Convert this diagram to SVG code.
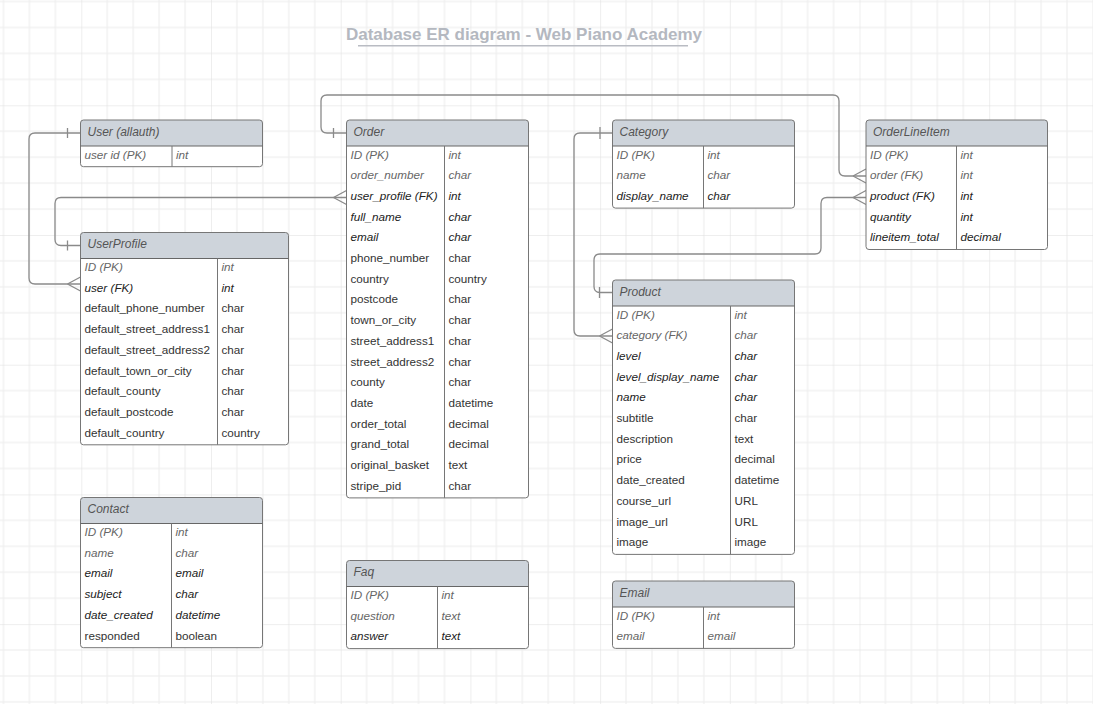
<svg xmlns="http://www.w3.org/2000/svg" width="1093" height="704" viewBox="0 0 1093 704">
  <defs>
    <!-- light drafting grid: minor cells every 25.94px, a darker line every fifth -->
    <pattern id="grid" x="81.3" y="105.3" width="129.7" height="129.7" patternUnits="userSpaceOnUse">
      <g stroke="#ececec" stroke-width="1">
        <path d="M25.94,0V129.7M51.88,0V129.7M77.82,0V129.7M103.76,0V129.7"/>
        <path d="M0,25.94H129.7M0,51.88H129.7M0,77.82H129.7M0,103.76H129.7"/>
      </g>
      <path d="M0,0V129.7M0,0H129.7" stroke="#dddddd" stroke-width="1"/>
    </pattern>
  </defs>
  <style>
    .frame { fill: none; stroke: #767676; stroke-width: 1; }
    .body { fill: #ffffff; }
    .head { fill: #ced4db; }
    .sep { stroke: #767676; stroke-width: 1; }
    .hsep { stroke: #666666; stroke-width: 1.2; }
    text { font-family: "Liberation Sans", Arial, sans-serif; font-size: 11.7px; }
    .h { font-size: 12px; font-style: italic; fill: #555555; }
    .g { font-style: italic; fill: #666666; }
    .k { font-style: italic; fill: #222222; }
    .n { fill: #333333; }
    .title { font-size: 17px; font-weight: bold; fill: #b4b8c0; }
    .c { fill: none; stroke: #8a8a8a; stroke-width: 1.3; }
  </style>

  <rect width="1093" height="704" fill="#ffffff"/>
  <rect width="1093" height="704" fill="url(#grid)"/>

  <g id="title">
    <text class="title" x="524" y="39.5" text-anchor="middle">Database ER diagram - Web Piano Academy</text>
    <line x1="358" y1="45.7" x2="688" y2="45.7" stroke="#b9bcc3" stroke-width="1.5"/>
  </g>

  <!-- relationships: bar = one, three prongs = many -->
  <g id="connectors">
    <!-- User.id -> UserProfile.user -->
    <path class="c" d="M80.5,133H35Q29,133 29,139V278Q29,284 35,284H80.5"/>
    <path class="c" d="M67.5,128V138M67.5,284L80.5,277M67.5,284L80.5,291"/>
    <!-- UserProfile.id -> Order.user_profile -->
    <path class="c" d="M80.5,245.5H61Q55,245.5 55,239.5V203.5Q55,197.5 61,197.5H346.5"/>
    <path class="c" d="M67.5,240.5V250.5M333.5,197.5L346.5,190.5M333.5,197.5L346.5,204.5"/>
    <!-- Order.id -> OrderLineItem.order -->
    <path class="c" d="M346.5,133H327Q321,133 321,127V101Q321,95 327,95H833Q839,95 839,101V170Q839,176 845,176H866"/>
    <path class="c" d="M333.5,128V138M853,176L866,169M853,176L866,183"/>
    <!-- Product.id -> OrderLineItem.product -->
    <path class="c" d="M612.5,292.5H600Q594,292.5 594,286.5V260Q594,254 600,254H815Q821,254 821,248V203.5Q821,197.5 827,197.5H866"/>
    <path class="c" d="M599.5,287V298M853,197.5L866,190.5M853,197.5L866,204.5"/>
    <!-- Category.id -> Product.category -->
    <path class="c" d="M612.5,133H580Q574,133 574,139V330Q574,336 580,336H612.5"/>
    <path class="c" d="M600,127V139M599.5,336L612.5,329M599.5,336L612.5,343"/>
  </g>

  <g id="user-allauth">
    <rect class="body" x="80.5" y="120" width="182" height="46.7" rx="3"/>
    <path class="head" d="M80.5,146V123Q80.5,120 83.5,120H259.5Q262.5,120 262.5,123V146Z"/>
    <rect class="frame" x="80.5" y="120" width="182" height="46.7" rx="3"/>
    <line class="hsep" x1="80.5" y1="146" x2="262.5" y2="146"/>
    <line class="sep" x1="172" y1="146" x2="172" y2="166.7"/>
    <text class="h" x="87.5" y="135.8">User (allauth)</text>
    <text class="g" x="84.5" y="158.5">user id (PK)</text>
    <text class="g" x="176" y="158.5">int</text>
  </g>

  <g id="order">
    <rect class="body" x="346.5" y="120" width="182" height="377.9" rx="3"/>
    <path class="head" d="M346.5,146V123Q346.5,120 349.5,120H525.5Q528.5,120 528.5,123V146Z"/>
    <rect class="frame" x="346.5" y="120" width="182" height="377.9" rx="3"/>
    <line class="hsep" x1="346.5" y1="146" x2="528.5" y2="146"/>
    <line class="sep" x1="444.5" y1="146" x2="444.5" y2="497.9"/>
    <text class="h" x="353.5" y="135.8">Order</text>
    <text class="g" x="350.5" y="158.5">ID (PK)</text><text class="g" x="448.5" y="158.5">int</text>
    <text class="g" x="350.5" y="179.2">order_number</text><text class="g" x="448.5" y="179.2">char</text>
    <text class="k" x="350.5" y="199.9">user_profile (FK)</text><text class="k" x="448.5" y="199.9">int</text>
    <text class="k" x="350.5" y="220.6">full_name</text><text class="k" x="448.5" y="220.6">char</text>
    <text class="k" x="350.5" y="241.3">email</text><text class="k" x="448.5" y="241.3">char</text>
    <text class="n" x="350.5" y="262">phone_number</text><text class="n" x="448.5" y="262">char</text>
    <text class="n" x="350.5" y="282.7">country</text><text class="n" x="448.5" y="282.7">country</text>
    <text class="n" x="350.5" y="303.4">postcode</text><text class="n" x="448.5" y="303.4">char</text>
    <text class="n" x="350.5" y="324.1">town_or_city</text><text class="n" x="448.5" y="324.1">char</text>
    <text class="n" x="350.5" y="344.8">street_address1</text><text class="n" x="448.5" y="344.8">char</text>
    <text class="n" x="350.5" y="365.5">street_address2</text><text class="n" x="448.5" y="365.5">char</text>
    <text class="n" x="350.5" y="386.2">county</text><text class="n" x="448.5" y="386.2">char</text>
    <text class="n" x="350.5" y="406.9">date</text><text class="n" x="448.5" y="406.9">datetime</text>
    <text class="n" x="350.5" y="427.6">order_total</text><text class="n" x="448.5" y="427.6">decimal</text>
    <text class="n" x="350.5" y="448.3">grand_total</text><text class="n" x="448.5" y="448.3">decimal</text>
    <text class="n" x="350.5" y="469">original_basket</text><text class="n" x="448.5" y="469">text</text>
    <text class="n" x="350.5" y="489.7">stripe_pid</text><text class="n" x="448.5" y="489.7">char</text>
  </g>

  <g id="category">
    <rect class="body" x="612.5" y="120" width="182" height="88.1" rx="3"/>
    <path class="head" d="M612.5,146V123Q612.5,120 615.5,120H791.5Q794.5,120 794.5,123V146Z"/>
    <rect class="frame" x="612.5" y="120" width="182" height="88.1" rx="3"/>
    <line class="hsep" x1="612.5" y1="146" x2="794.5" y2="146"/>
    <line class="sep" x1="703.5" y1="146" x2="703.5" y2="208.1"/>
    <text class="h" x="619.5" y="135.8">Category</text>
    <text class="g" x="616.5" y="158.5">ID (PK)</text><text class="g" x="707.5" y="158.5">int</text>
    <text class="g" x="616.5" y="179.2">name</text><text class="g" x="707.5" y="179.2">char</text>
    <text class="k" x="616.5" y="199.9">display_name</text><text class="k" x="707.5" y="199.9">char</text>
  </g>

  <g id="order-line-item">
    <rect class="body" x="866" y="120" width="181.5" height="129.5" rx="3"/>
    <path class="head" d="M866,146V123Q866,120 869,120H1044.5Q1047.5,120 1047.5,123V146Z"/>
    <rect class="frame" x="866" y="120" width="181.5" height="129.5" rx="3"/>
    <line class="hsep" x1="866" y1="146" x2="1047.5" y2="146"/>
    <line class="sep" x1="956.5" y1="146" x2="956.5" y2="249.5"/>
    <text class="h" x="873" y="135.8">OrderLineItem</text>
    <text class="g" x="870" y="158.5">ID (PK)</text><text class="g" x="960.5" y="158.5">int</text>
    <text class="g" x="870" y="179.2">order (FK)</text><text class="g" x="960.5" y="179.2">int</text>
    <text class="k" x="870" y="199.9">product (FK)</text><text class="k" x="960.5" y="199.9">int</text>
    <text class="k" x="870" y="220.6">quantity</text><text class="k" x="960.5" y="220.6">int</text>
    <text class="k" x="870" y="241.3">lineitem_total</text><text class="k" x="960.5" y="241.3">decimal</text>
  </g>

  <g id="user-profile">
    <rect class="body" x="80.5" y="232.5" width="208" height="212.3" rx="3"/>
    <path class="head" d="M80.5,258.5V235.5Q80.5,232.5 83.5,232.5H285.5Q288.5,232.5 288.5,235.5V258.5Z"/>
    <rect class="frame" x="80.5" y="232.5" width="208" height="212.3" rx="3"/>
    <line class="hsep" x1="80.5" y1="258.5" x2="288.5" y2="258.5"/>
    <line class="sep" x1="217.5" y1="258.5" x2="217.5" y2="444.8"/>
    <text class="h" x="87.5" y="248.3">UserProfile</text>
    <text class="g" x="84.5" y="271">ID (PK)</text><text class="g" x="221.5" y="271">int</text>
    <text class="k" x="84.5" y="291.7">user (FK)</text><text class="k" x="221.5" y="291.7">int</text>
    <text class="n" x="84.5" y="312.4">default_phone_number</text><text class="n" x="221.5" y="312.4">char</text>
    <text class="n" x="84.5" y="333.1">default_street_address1</text><text class="n" x="221.5" y="333.1">char</text>
    <text class="n" x="84.5" y="353.8">default_street_address2</text><text class="n" x="221.5" y="353.8">char</text>
    <text class="n" x="84.5" y="374.5">default_town_or_city</text><text class="n" x="221.5" y="374.5">char</text>
    <text class="n" x="84.5" y="395.2">default_county</text><text class="n" x="221.5" y="395.2">char</text>
    <text class="n" x="84.5" y="415.9">default_postcode</text><text class="n" x="221.5" y="415.9">char</text>
    <text class="n" x="84.5" y="436.6">default_country</text><text class="n" x="221.5" y="436.6">country</text>
  </g>

  <g id="product">
    <rect class="body" x="612.5" y="280" width="182" height="274.4" rx="3"/>
    <path class="head" d="M612.5,306V283Q612.5,280 615.5,280H791.5Q794.5,280 794.5,283V306Z"/>
    <rect class="frame" x="612.5" y="280" width="182" height="274.4" rx="3"/>
    <line class="hsep" x1="612.5" y1="306" x2="794.5" y2="306"/>
    <line class="sep" x1="730.5" y1="306" x2="730.5" y2="554.4"/>
    <text class="h" x="619.5" y="295.8">Product</text>
    <text class="g" x="616.5" y="318.5">ID (PK)</text><text class="g" x="734.5" y="318.5">int</text>
    <text class="g" x="616.5" y="339.2">category (FK)</text><text class="g" x="734.5" y="339.2">char</text>
    <text class="k" x="616.5" y="359.9">level</text><text class="k" x="734.5" y="359.9">char</text>
    <text class="k" x="616.5" y="380.6">level_display_name</text><text class="k" x="734.5" y="380.6">char</text>
    <text class="k" x="616.5" y="401.3">name</text><text class="k" x="734.5" y="401.3">char</text>
    <text class="n" x="616.5" y="422">subtitle</text><text class="n" x="734.5" y="422">char</text>
    <text class="n" x="616.5" y="442.7">description</text><text class="n" x="734.5" y="442.7">text</text>
    <text class="n" x="616.5" y="463.4">price</text><text class="n" x="734.5" y="463.4">decimal</text>
    <text class="n" x="616.5" y="484.1">date_created</text><text class="n" x="734.5" y="484.1">datetime</text>
    <text class="n" x="616.5" y="504.8">course_url</text><text class="n" x="734.5" y="504.8">URL</text>
    <text class="n" x="616.5" y="525.5">image_url</text><text class="n" x="734.5" y="525.5">URL</text>
    <text class="n" x="616.5" y="546.2">image</text><text class="n" x="734.5" y="546.2">image</text>
  </g>

  <g id="contact">
    <rect class="body" x="80.5" y="497.5" width="182" height="150.2" rx="3"/>
    <path class="head" d="M80.5,523.5V500.5Q80.5,497.5 83.5,497.5H259.5Q262.5,497.5 262.5,500.5V523.5Z"/>
    <rect class="frame" x="80.5" y="497.5" width="182" height="150.2" rx="3"/>
    <line class="hsep" x1="80.5" y1="523.5" x2="262.5" y2="523.5"/>
    <line class="sep" x1="171.5" y1="523.5" x2="171.5" y2="647.7"/>
    <text class="h" x="87.5" y="513.3">Contact</text>
    <text class="g" x="84.5" y="536">ID (PK)</text><text class="g" x="175.5" y="536">int</text>
    <text class="g" x="84.5" y="556.7">name</text><text class="g" x="175.5" y="556.7">char</text>
    <text class="k" x="84.5" y="577.4">email</text><text class="k" x="175.5" y="577.4">email</text>
    <text class="k" x="84.5" y="598.1">subject</text><text class="k" x="175.5" y="598.1">char</text>
    <text class="k" x="84.5" y="618.8">date_created</text><text class="k" x="175.5" y="618.8">datetime</text>
    <text class="n" x="84.5" y="639.5">responded</text><text class="n" x="175.5" y="639.5">boolean</text>
  </g>

  <g id="faq">
    <rect class="body" x="346.5" y="560.5" width="182" height="88.1" rx="3"/>
    <path class="head" d="M346.5,586.5V563.5Q346.5,560.5 349.5,560.5H525.5Q528.5,560.5 528.5,563.5V586.5Z"/>
    <rect class="frame" x="346.5" y="560.5" width="182" height="88.1" rx="3"/>
    <line class="hsep" x1="346.5" y1="586.5" x2="528.5" y2="586.5"/>
    <line class="sep" x1="437.5" y1="586.5" x2="437.5" y2="648.6"/>
    <text class="h" x="353.5" y="576.3">Faq</text>
    <text class="g" x="350.5" y="599">ID (PK)</text><text class="g" x="441.5" y="599">int</text>
    <text class="g" x="350.5" y="619.7">question</text><text class="g" x="441.5" y="619.7">text</text>
    <text class="k" x="350.5" y="640.4">answer</text><text class="k" x="441.5" y="640.4">text</text>
  </g>

  <g id="email">
    <rect class="body" x="612.5" y="581" width="182" height="67.4" rx="3"/>
    <path class="head" d="M612.5,607V584Q612.5,581 615.5,581H791.5Q794.5,581 794.5,584V607Z"/>
    <rect class="frame" x="612.5" y="581" width="182" height="67.4" rx="3"/>
    <line class="hsep" x1="612.5" y1="607" x2="794.5" y2="607"/>
    <line class="sep" x1="703.5" y1="607" x2="703.5" y2="648.4"/>
    <text class="h" x="619.5" y="596.8">Email</text>
    <text class="g" x="616.5" y="619.5">ID (PK)</text><text class="g" x="707.5" y="619.5">int</text>
    <text class="g" x="616.5" y="640.2">email</text><text class="g" x="707.5" y="640.2">email</text>
  </g>
</svg>
